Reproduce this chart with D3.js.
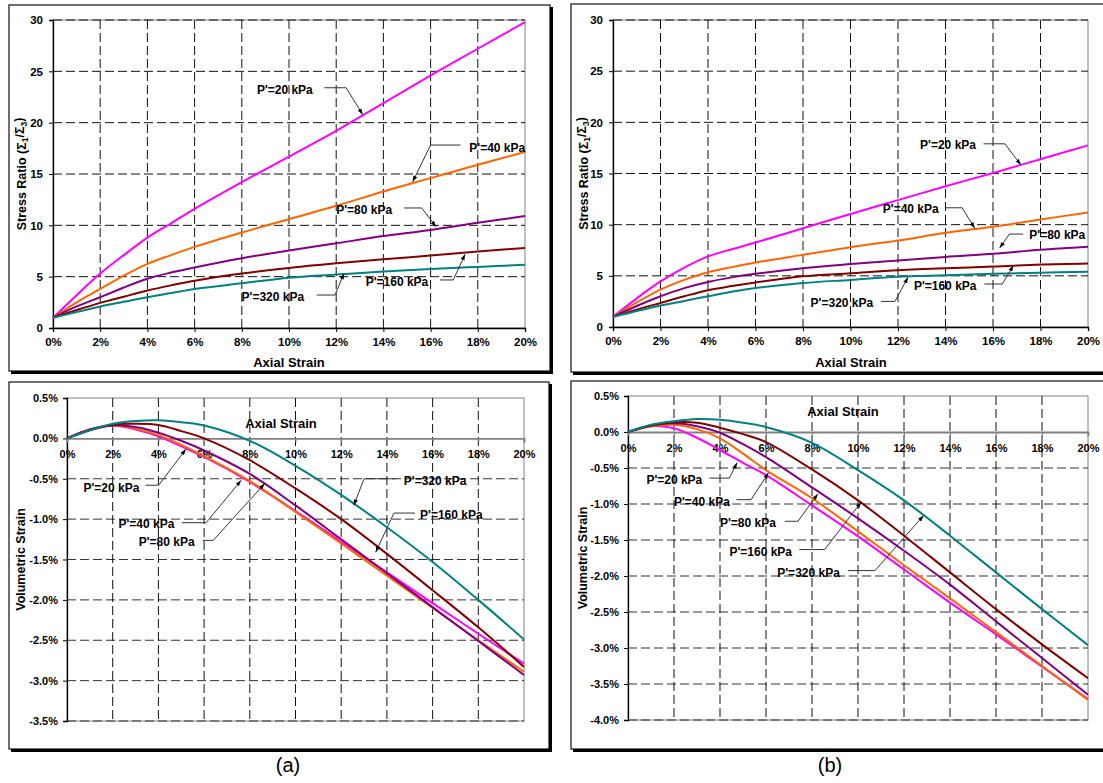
<!DOCTYPE html>
<html>
<head>
<meta charset="utf-8">
<script src="https://cdn.jsdelivr.net/npm/d3@7"></script>
<style>
  body { margin: 0; background: #fff; }
  svg { display: block; }
  text { font-family: Arial, "Liberation Sans", sans-serif; }
</style>
</head>
<body>
<svg width="1103" height="783"></svg>
<script>
// ---- data ----
const strain = [0, 1, 2, 3, 4, 5, 6, 8, 10, 12, 14, 16, 18, 20];   // axial strain, %
const pressureLabels = ["P'=20 kPa", "P'=40 kPa", "P'=80 kPa", "P'=160 kPa", "P'=320 kPa"];
const lineColors = ["#ff00ff", "#ff6600", "#800080", "#800000", "#008080"];

// (a) stress ratio
const ratioA20  = [1, 3.2, 5.3, 7.1, 8.8, 10.2, 11.6, 14.2, 16.7, 19.2, 21.9, 24.6, 27.2, 29.8];
const ratioA40  = [1, 2.5, 3.8, 5.1, 6.25, 7.1, 7.9, 9.3, 10.6, 11.9, 13.3, 14.6, 15.9, 17.15];
const ratioA80  = [1, 2.1, 3.0, 3.95, 4.8, 5.4, 5.9, 6.8, 7.55, 8.25, 8.95, 9.55, 10.25, 10.9];
const ratioA160 = [1, 1.75, 2.45, 3.05, 3.65, 4.15, 4.6, 5.3, 5.85, 6.3, 6.7, 7.05, 7.45, 7.8];
const ratioA320 = [1, 1.55, 2.1, 2.55, 3.0, 3.4, 3.8, 4.35, 4.9, 5.2, 5.5, 5.75, 5.95, 6.15];

// (b) stress ratio
const ratioB20  = [1, 2.8, 4.45, 5.8, 6.9, 7.6, 8.25, 9.65, 11.05, 12.4, 13.75, 15.05, 16.4, 17.75];
const ratioB40  = [1, 2.4, 3.65, 4.6, 5.35, 5.85, 6.3, 7.05, 7.8, 8.45, 9.2, 9.8, 10.5, 11.2];
const ratioB80  = [1, 2.05, 3.0, 3.8, 4.4, 4.85, 5.2, 5.75, 6.15, 6.5, 6.85, 7.15, 7.55, 7.85];
const ratioB160 = [1, 1.7, 2.35, 3.0, 3.6, 4.0, 4.35, 4.95, 5.25, 5.55, 5.75, 5.9, 6.1, 6.2];
const ratioB320 = [1, 1.55, 2.1, 2.55, 3.0, 3.45, 3.8, 4.3, 4.6, 4.9, 5.05, 5.2, 5.3, 5.4];

// (a) volumetric strain, %
const volA20  = [0, 0.11, 0.16, 0.11, 0.025, -0.1, -0.23, -0.54, -0.9, -1.28, -1.66, -2.04, -2.42, -2.79];
const volA40  = [0, 0.11, 0.16, 0.12, 0.04, -0.08, -0.22, -0.53, -0.91, -1.3, -1.7, -2.1, -2.5, -2.89];
const volA80  = [0, 0.11, 0.16, 0.14, 0.07, -0.03, -0.15, -0.44, -0.83, -1.25, -1.67, -2.09, -2.51, -2.93];
const volA160 = [0, 0.1, 0.17, 0.18, 0.165, 0.09, 0.0, -0.27, -0.62, -1.0, -1.43, -1.88, -2.34, -2.83];
const volA320 = [0, 0.1, 0.18, 0.215, 0.225, 0.2, 0.16, -0.03, -0.34, -0.7, -1.1, -1.53, -2.0, -2.49];

// (b) volumetric strain, %
const volB20  = [0, 0.08, 0.05, -0.08, -0.25, -0.43, -0.6, -1.02, -1.45, -1.91, -2.37, -2.81, -3.26, -3.71];
const volB40  = [0, 0.08, 0.1, 0.04, -0.09, -0.3, -0.53, -0.92, -1.38, -1.85, -2.31, -2.78, -3.25, -3.72];
const volB80  = [0, 0.09, 0.12, 0.08, -0.01, -0.17, -0.35, -0.77, -1.2, -1.65, -2.12, -2.63, -3.14, -3.65];
const volB160 = [0, 0.09, 0.135, 0.13, 0.06, -0.03, -0.14, -0.52, -0.95, -1.44, -1.95, -2.46, -2.95, -3.42];
const volB320 = [0, 0.1, 0.15, 0.18, 0.17, 0.13, 0.07, -0.15, -0.53, -0.95, -1.44, -1.95, -2.46, -2.96];

const strainTicks = [0, 2, 4, 6, 8, 10, 12, 14, 16, 18, 20];
const ratioTicks = [0, 5, 10, 15, 20, 25, 30];
const volTicksA = [0.5, 0, -0.5, -1, -1.5, -2, -2.5, -3, -3.5];
const volTicksB = [0.5, 0, -0.5, -1, -1.5, -2, -2.5, -3, -3.5, -4];

// callouts: text start (x,y) and leader path, in data units
const notesTopA = [
  {t: pressureLabels[0], x: 8.64, y: 23.2, path: [[11.5, 23.4], [12.42, 23.4], [13.12, 20.8]]},
  {t: pressureLabels[1], x: 17.64, y: 17.6, path: [[17.27, 17.82], [16.0, 17.82], [15.24, 14.25]]},
  {t: pressureLabels[2], x: 12.0, y: 11.5, path: [[14.87, 11.69], [15.62, 11.69], [16.23, 9.87]]},
  {t: pressureLabels[3], x: 13.25, y: 4.51, path: [[16.4, 4.68], [16.96, 4.68], [17.46, 7.18]]},
  {t: pressureLabels[4], x: 7.99, y: 3.05, path: [[11.17, 3.21], [11.95, 3.21], [12.33, 5.32]]}
];
const notesTopB = [
  {t: pressureLabels[0], x: 12.93, y: 17.8, path: [[15.6, 17.9], [16.5, 17.9], [17.17, 15.85]]},
  {t: pressureLabels[1], x: 11.36, y: 11.55, path: [[14.0, 11.65], [14.7, 11.65], [15.23, 9.66]]},
  {t: pressureLabels[2], x: 17.53, y: 9.0, path: [[17.27, 9.08], [16.69, 9.08], [16.28, 7.71]]},
  {t: pressureLabels[3], x: 12.67, y: 4.07, path: [[15.64, 4.2], [16.39, 4.2], [16.86, 6.0]]},
  {t: pressureLabels[4], x: 8.32, y: 2.41, path: [[11.28, 2.5], [11.87, 2.5], [12.42, 4.85]]}
];
const notesBotA = [
  {t: pressureLabels[0], x: 0.72, y: -0.615, path: [[3.44, -0.58], [4.01, -0.58], [5.2, -0.136]]},
  {t: pressureLabels[1], x: 2.25, y: -1.057, path: [[5.02, -1.044], [6.09, -1.044], [7.62, -0.52]]},
  {t: pressureLabels[2], x: 3.14, y: -1.28, path: [[5.94, -1.263], [6.4, -1.263], [8.65, -0.56]]},
  {t: pressureLabels[3], x: 15.45, y: -0.945, path: [[15.23, -0.925], [14.31, -0.925], [13.51, -1.41]]},
  {t: pressureLabels[4], x: 14.74, y: -0.52, path: [[14.38, -0.5], [13.0, -0.5], [12.55, -0.83]]}
];
const notesBotB = [
  {t: pressureLabels[0], x: 0.8, y: -0.66, path: [[3.54, -0.64], [4.41, -0.64], [4.74, -0.427]]},
  {t: pressureLabels[1], x: 2.0, y: -0.965, path: [[4.71, -0.94], [5.35, -0.94], [6.11, -0.566]]},
  {t: pressureLabels[2], x: 4.0, y: -1.26, path: [[6.82, -1.24], [7.39, -1.24], [8.25, -0.86]]},
  {t: pressureLabels[3], x: 4.41, y: -1.656, path: [[7.45, -1.633], [8.55, -1.633], [10.14, -0.974]]},
  {t: pressureLabels[4], x: 6.49, y: -1.95, path: [[9.56, -1.925], [10.74, -1.925], [12.85, -1.16]]}
];

// ---- layout ----
const panels = [
  {kind: "ratio", frame: [9, 5, 550, 371], plot: [53, 20, 525, 328], yDomain: [0, 30], yTicks: ratioTicks,
   series: [ratioA20, ratioA40, ratioA80, ratioA160, ratioA320], notes: notesTopA,
   yTitleX: 21, xTitle: [289, 362]},
  {kind: "ratio", frame: [571, 4, 1112, 372], plot: [613, 20, 1088, 327], yDomain: [0, 30], yTicks: ratioTicks,
   series: [ratioB20, ratioB40, ratioB80, ratioB160, ratioB320], notes: notesTopB,
   yTitleX: 583, xTitle: [851, 362]},
  {kind: "vol", frame: [9, 382, 549, 749], plot: [67, 398, 524, 721], yDomain: [-3.5, 0.5], yTicks: volTicksA,
   series: [volA20, volA40, volA80, volA160, volA320], notes: notesBotA,
   yTitleX: 20, xTitle: [281, 423], pad: 8},
  {kind: "vol", frame: [571, 381, 1112, 749], plot: [628, 396, 1088, 720], yDomain: [-4, 0.5], yTicks: volTicksB,
   series: [volB20, volB40, volB80, volB160, volB320], notes: notesBotB,
   yTitleX: 582, xTitle: [843, 411], pad: 8}
];

const svg = d3.select("svg");
svg.append("defs").append("marker")
  .attr("id", "arr").attr("viewBox", "0 0 10 10")
  .attr("refX", 10).attr("refY", 5)
  .attr("markerWidth", 6).attr("markerHeight", 6)
  .attr("orient", "auto")
  .append("path").attr("d", "M0,1.5L10,5L0,8.5Z").attr("fill", "#000");

function drawFrame(f) {
  const [x0, y0, x1, y1] = f;
  svg.append("rect").attr("x", x0).attr("y", y0).attr("width", x1 - x0).attr("height", y1 - y0)
    .attr("fill", "#fff").attr("stroke", "#222").attr("stroke-width", 1.3);
  // drop shadow on right and bottom
  svg.append("line").attr("x1", x0 + 2).attr("x2", x1 + 2).attr("y1", y1 + 1.5).attr("y2", y1 + 1.5)
    .attr("stroke", "#000").attr("stroke-width", 3);
  svg.append("line").attr("x1", x1 + 1.5).attr("x2", x1 + 1.5).attr("y1", y0 + 2).attr("y2", y1 + 3)
    .attr("stroke", "#000").attr("stroke-width", 3);
}

function drawPanel(p) {
  drawFrame(p.frame);
  const g = svg.append("g");
  const x = d3.scaleLinear().domain([0, 20]).range([p.plot[0], p.plot[2]]);
  const y = d3.scaleLinear().domain(p.yDomain).range([p.plot[3], p.plot[1]]);
  const [L, T, R, B] = p.plot;

  // plot area border
  g.append("rect").attr("x", L).attr("y", T).attr("width", R - L).attr("height", B - T)
    .attr("fill", "none").attr("stroke", "#808080").attr("stroke-width", 1);

  // dashed grid
  const hVals = p.kind === "ratio" ? p.yTicks.filter(v => v > 0) : p.yTicks.filter(v => v < 0);
  g.selectAll(".hg").data(hVals).enter().append("line")
    .attr("x1", L).attr("x2", R).attr("y1", d => y(d)).attr("y2", d => y(d))
    .attr("stroke", p.kind === "ratio" ? "#111" : "#333").attr("stroke-width", 1)
    .attr("stroke-dasharray", "9,4");
  g.selectAll(".vg").data(strainTicks.filter(v => v > 0 && v < 20)).enter().append("line")
    .attr("x1", d => x(d)).attr("x2", d => x(d)).attr("y1", T).attr("y2", B)
    .attr("stroke", "#111").attr("stroke-width", 1)
    .attr("stroke-dasharray", "9,4");

  // axes
  const yAxis = d3.axisLeft(y).tickValues(p.yTicks).tickSize(4).tickPadding(p.kind === "ratio" ? 6 : 5)
    .tickFormat(p.kind === "ratio" ? d3.format("d") : d => d.toFixed(1) + "%");
  const ya = g.append("g").attr("transform", `translate(${L},0)`).call(yAxis);
  ya.select(".domain").attr("stroke", "#000").attr("stroke-width", 1.3);
  ya.selectAll(".tick line").attr("stroke", "#000");
  ya.selectAll("text").attr("font-size", p.kind === "ratio" ? 11.5 : 11).attr("font-weight", "bold")
    .attr("fill", "#000").attr("font-family", "Arial, 'Liberation Sans', sans-serif");

  const axY = p.kind === "ratio" ? B : y(0);
  const xAxis = d3.axisBottom(x).tickValues(strainTicks).tickSize(4).tickPadding(p.kind === "ratio" ? 6 : p.pad)
    .tickFormat(d => d + "%");
  const xa = g.append("g").attr("transform", `translate(0,${axY})`).call(xAxis);
  xa.select(".domain").attr("stroke", p.kind === "ratio" ? "#000" : "#808080")
    .attr("stroke-width", p.kind === "ratio" ? 1.3 : 1.8);
  xa.selectAll(".tick line").attr("stroke", p.kind === "ratio" ? "#000" : "#808080");
  xa.selectAll("text").attr("font-size", p.kind === "ratio" ? 11.5 : 11).attr("font-weight", "bold")
    .attr("fill", "#000").attr("font-family", "Arial, 'Liberation Sans', sans-serif");

  // curves
  const line = d3.line().x((d, i) => x(strain[i])).y(d => y(d)).curve(d3.curveCatmullRom.alpha(0.5));
  g.selectAll(".curve").data(p.series).enter().append("path")
    .attr("d", line).attr("fill", "none")
    .attr("stroke", (d, i) => lineColors[i]).attr("stroke-width", 2);

  // callouts
  const lead = d3.line().x(d => x(d[0])).y(d => y(d[1]));
  p.notes.forEach(n => {
    g.append("path").attr("d", lead(n.path)).attr("fill", "none")
      .attr("stroke", "#333").attr("stroke-width", 1).attr("marker-end", "url(#arr)");
    g.append("text").attr("x", x(n.x)).attr("y", y(n.y)).attr("dy", "0.36em")
      .attr("font-size", 12).attr("font-weight", "bold").attr("fill", "#000").text(n.t);
  });

  // titles
  g.append("text").attr("x", p.xTitle[0]).attr("y", p.xTitle[1]).attr("dy", "0.36em")
    .attr("text-anchor", "middle").attr("font-size", 13).attr("font-weight", "bold").text("Axial Strain");

  const yt = g.append("text")
    .attr("transform", `translate(${p.yTitleX},${(T + B) / 2}) rotate(-90)`)
    .attr("dy", "0.36em").attr("text-anchor", "middle")
    .attr("font-size", 12.5).attr("font-weight", "bold");
  if (p.kind === "ratio") {
    yt.append("tspan").text("Stress Ratio (Σ");
    yt.append("tspan").attr("font-size", 8.5).attr("dy", "0.3em").text("1");
    yt.append("tspan").attr("dy", "-0.3em").text("/Σ");
    yt.append("tspan").attr("font-size", 8.5).attr("dy", "0.3em").text("3");
    yt.append("tspan").attr("dy", "-0.3em").text(")");
  } else {
    yt.text("Volumetric Strain");
  }
}

panels.forEach(drawPanel);

// captions
svg.append("text").attr("x", 288).attr("y", 772).attr("text-anchor", "middle")
  .attr("font-size", 20).text("(a)");
svg.append("text").attr("x", 830).attr("y", 772).attr("text-anchor", "middle")
  .attr("font-size", 20).text("(b)");
</script>
</body>
</html>
